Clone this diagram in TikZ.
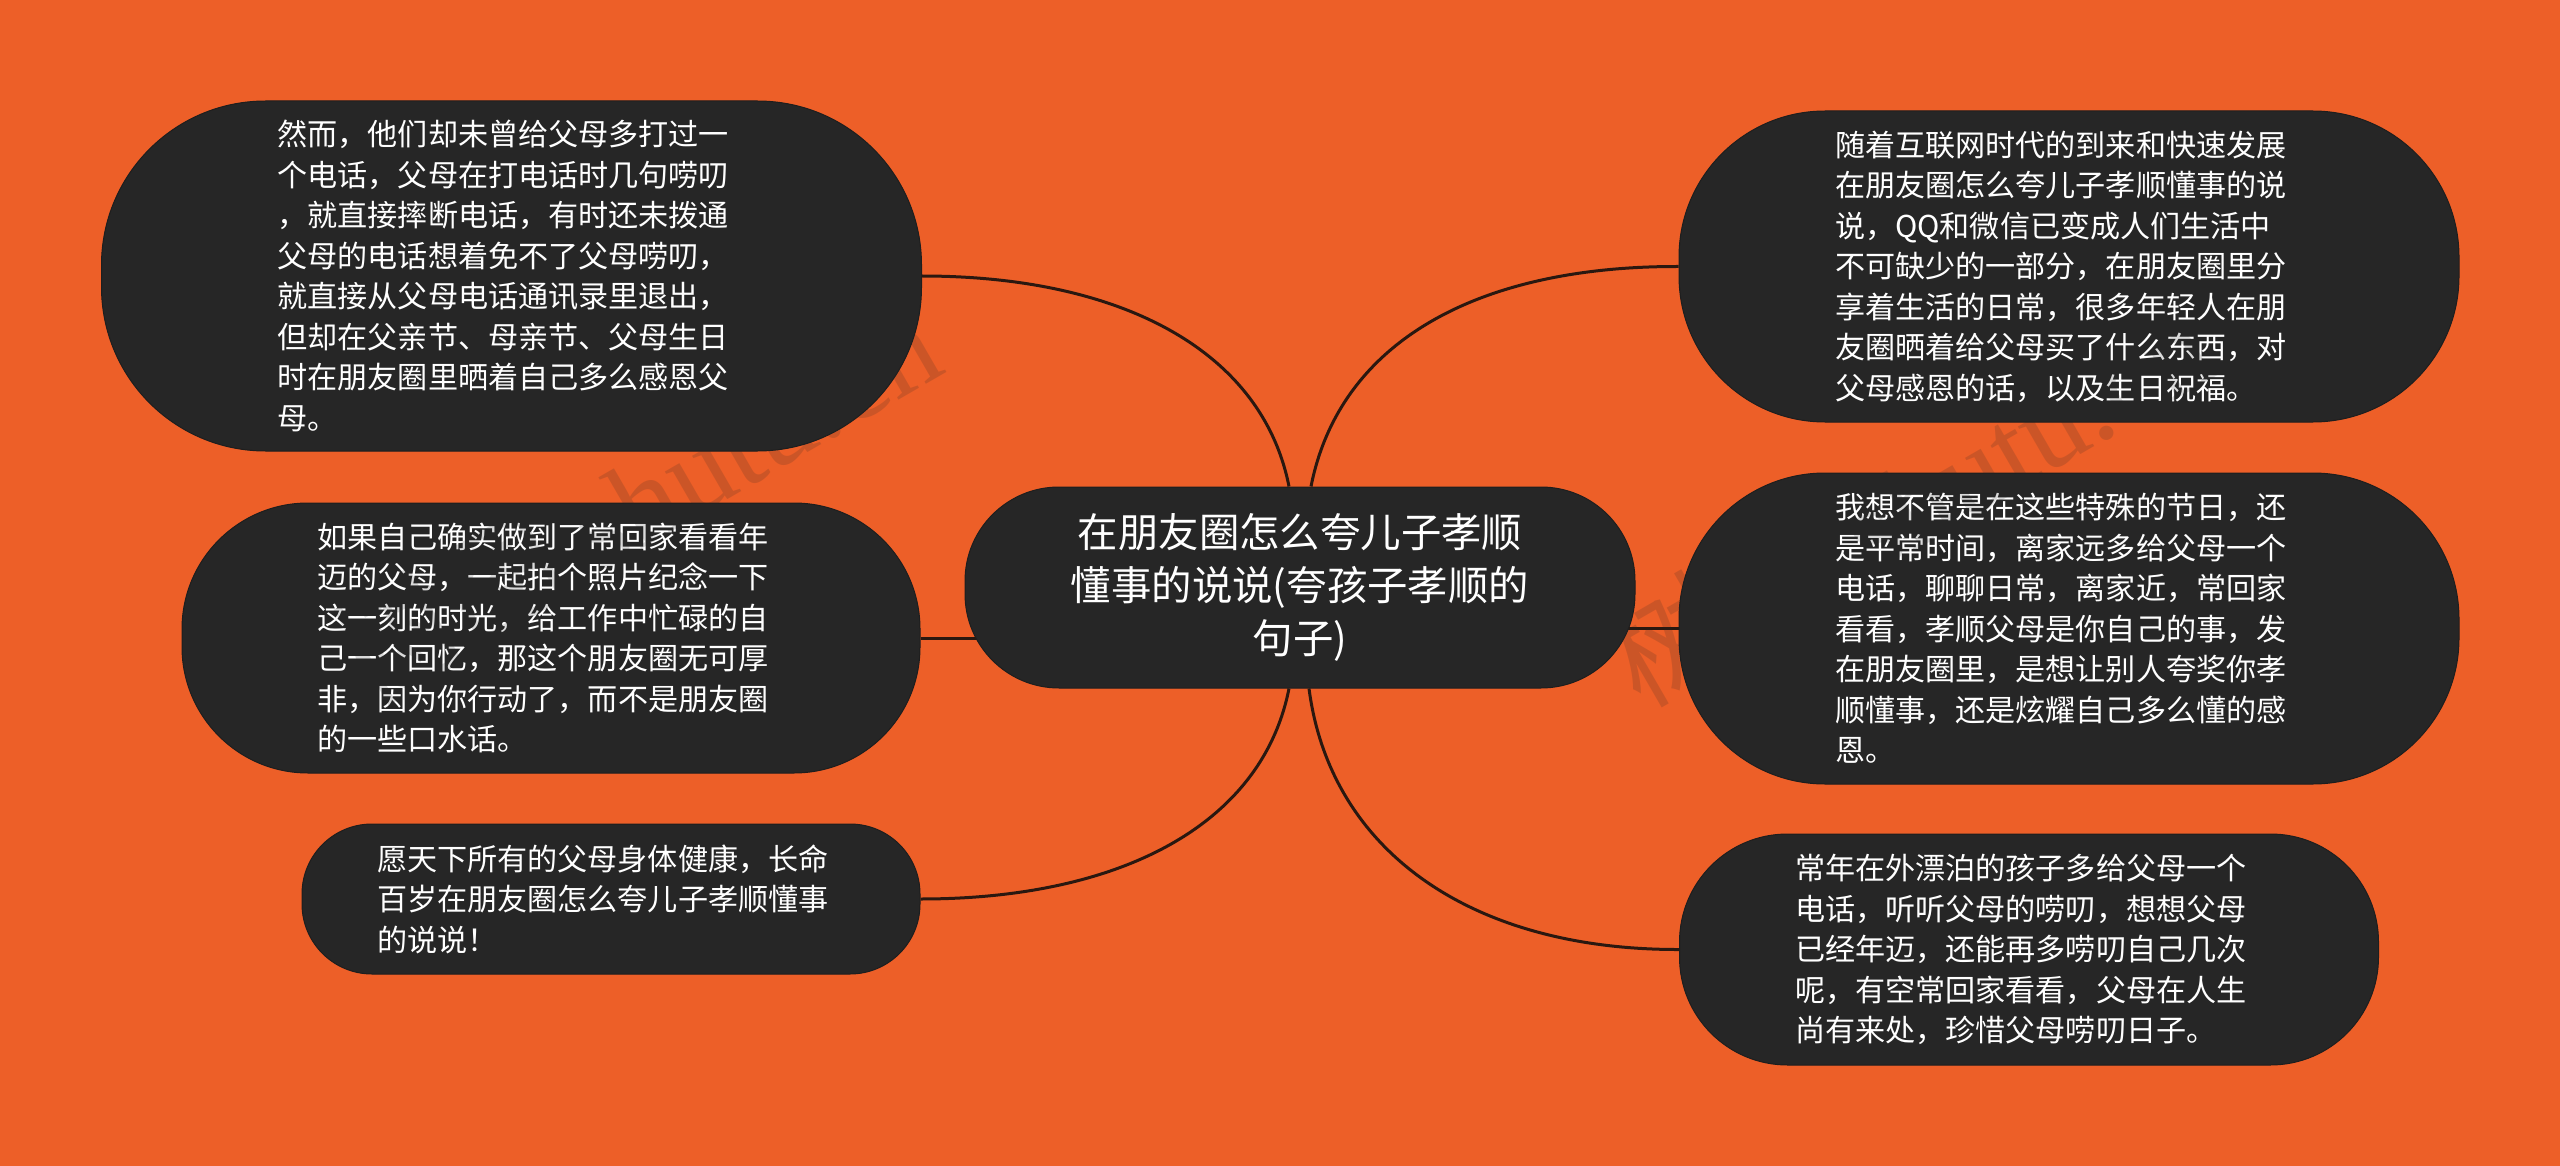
\documentclass[tikz,border=0pt]{standalone}
\usepackage{fontspec}
\setmainfont{Noto Sans CJK SC}
\newfontfamily\wmlatin{Liberation Serif}
\usetikzlibrary{calc}
\definecolor{bgorange}{HTML}{ED5F28}
\definecolor{pilldark}{HTML}{262626}
\definecolor{linkdark}{HTML}{2A1810}
\pgfdeclarelayer{back}
\pgfsetlayers{back,main}
\tikzset{
  pill/.style={rectangle,fill=pilldark,draw=pilldark!80!black,line width=0.5pt,inner sep=0pt,text=white},
  body/.style={pill,text width=234pt,align=left,font=\fontsize{15.05}{20.25}\selectfont},
  title/.style={pill,align=center,font=\fontsize{20.2}{26.6}\selectfont},
  link/.style={draw=linkdark,line width=1.5pt},
  mark text/.style={text=pilldark,text opacity=0.17,rotate=30,inner sep=0pt,font=\fontsize{60}{66}\selectfont}
}
\begin{document}
\begin{tikzpicture}[x=0.5pt,y=-0.5pt]
\begin{pgfonlayer}{back}
  \fill[bgorange] (0,0) rectangle (2560,1166);
\end{pgfonlayer}
\useasboundingbox (0,0) rectangle (2560,1166);

\node[title,minimum width=335pt,minimum height=100.5pt,rounded corners=47pt] (c) at (1300,587.5)
  {\rule{0pt}{15pt}在朋友圈怎么夸儿子孝顺\\懂事的说说(夸孩子孝顺的\\句子)};

\node[body,minimum width=410pt,minimum height=175pt,rounded corners=82pt] (L1) at (511.5,276)
  {然而，他们却未曾给父母多打过一\\个电话，父母在打电话时几句唠叨\\，就直接摔断电话，有时还未拨通\\父母的电话想着免不了父母唠叨，\\就直接从父母电话通讯录里退出，\\但却在父亲节、母亲节、父母生日\\时在朋友圈里晒着自己多么感恩父\\母。};
\node[body,minimum width=369pt,minimum height=135pt,rounded corners=63pt] (L2) at (551,638)
  {如果自己确实做到了常回家看看年\\迈的父母，一起拍个照片纪念一下\\这一刻的时光，给工作中忙碌的自\\己一个回忆，那这个朋友圈无可厚\\非，因为你行动了，而不是朋友圈\\的一些口水话。};
\node[body,minimum width=309pt,minimum height=75pt,rounded corners=35pt] (L3) at (611,899)
  {愿天下所有的父母身体健康，长命\\百岁在朋友圈怎么夸儿子孝顺懂事\\的说说！};

\node[body,minimum width=390pt,minimum height=155.5pt,rounded corners=73pt] (R1) at (2069,266.5)
  {随着互联网时代的到来和快速发展\\在朋友圈怎么夸儿子孝顺懂事的说\\说，QQ和微信已变成人们生活中\\不可缺少的一部分，在朋友圈里分\\享着生活的日常，很多年轻人在朋\\友圈晒着给父母买了什么东西，对\\父母感恩的话，以及生日祝福。};
\node[body,minimum width=390pt,minimum height=155.5pt,rounded corners=73pt] (R2) at (2069,628.5)
  {我想不管是在这些特殊的节日，还\\是平常时间，离家远多给父母一个\\电话，聊聊日常，离家近，常回家\\看看，孝顺父母是你自己的事，发\\在朋友圈里，是想让别人夸奖你孝\\顺懂事，还是炫耀自己多么懂的感\\恩。};
\node[body,minimum width=349.5pt,minimum height=115.5pt,rounded corners=54pt] (R3) at (2029,949.5)
  {常年在外漂泊的孩子多给父母一个\\电话，听听父母的唠叨，想想父母\\已经年迈，还能再多唠叨自己几次\\呢，有空常回家看看，父母在人生\\尚有来处，珍惜父母唠叨日子。};

\begin{pgfonlayer}{back}
  \draw[link] (L1.east) .. controls (1120,276) and (1262,350) .. ($(c.north)+(-11,0)$);
  \draw[link] (R1.west) .. controls (1480,266) and (1340,340) .. ($(c.north)+(11,0)$);
  \draw[link] (L2.east) -- (L2.east -| c.center);
  \draw[link] (R2.west) -- (R2.west -| c.center);
  \draw[link] (L3.east) .. controls (1120,899) and (1262,825) .. ($(c.south)+(-11,0)$);
  \draw[link] (R3.west) .. controls (1470,950) and (1330,850) .. ($(c.south)+(9,0)$);
\end{pgfonlayer}

\node[mark text] (wmleft) at (635,500) {树图 {\wmlatin shutu.cn}};
\node[mark text] (wmright) at (1908,502) {树图 {\wmlatin shutu.cn}};
\end{tikzpicture}
\end{document}
